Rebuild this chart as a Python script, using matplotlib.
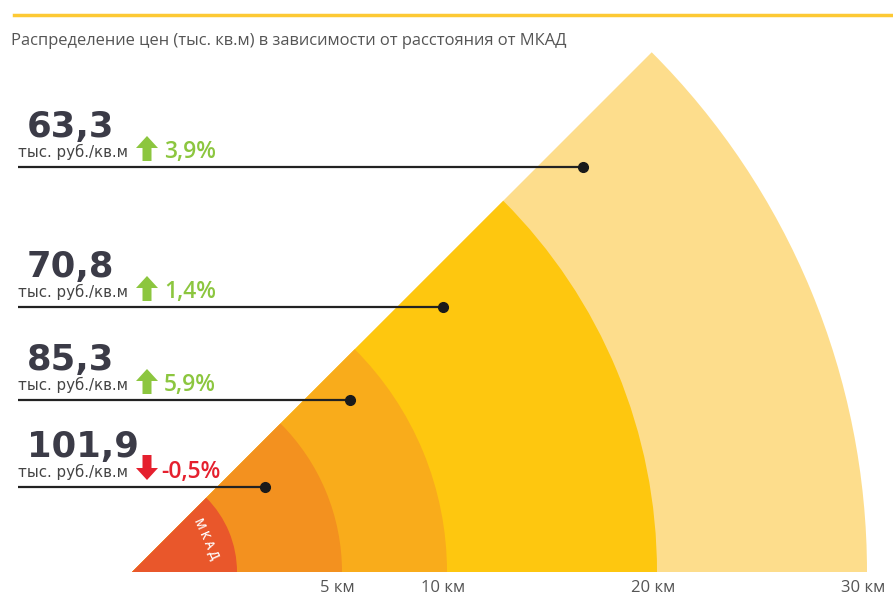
import numpy as np
import matplotlib
matplotlib.use('agg')
import matplotlib.pyplot as plt
from matplotlib.patches import Wedge, Polygon

# data
zone_km = [0, 5, 10, 20, 30]
zone_labels = ['', '5 км', '10 км', '20 км', '30 км']
zone_colors = ['#e9572b', '#f3911f', '#f9ac1b', '#fec70f', '#fddd8c']
prices = ['63,3', '70,8', '85,3', '101,9']
changes = ['3,9%', '1,4%', '5,9%', '-0,5%']
change_up = [True, True, True, False]
unit = 'тыс. руб./кв.м'
title = 'Распределение цен (тыс. кв.м) в зависимости от расстояния от МКАД'

# layout (pixels of the 893x599 picture)
W, H = 893, 599
X0, Y0, S = 132, 572, 21.0     # wedge vertex and px per km
MKAD_R = 5.0                   # MKAD ring radius in chart units
row_y = [167, 307, 400, 487]
dot_x = [583, 443, 350, 265]


def P(x, y):
    return (x - X0) / S, (Y0 - y) / S


fig = plt.figure(figsize=(W / 100, H / 100), dpi=100)
ax = fig.add_axes([0, 0, 1, 1])
ax.set_xlim(-X0 / S, (W - X0) / S)
ax.set_ylim(-(H - Y0) / S, Y0 / S)
ax.axis('off')

# sectors, outer first
for km, col in reversed(list(zip(zone_km, zone_colors))):
    ax.add_patch(Wedge((0, 0), MKAD_R + km, 0, 45, facecolor=col, edgecolor='none'))

for km, lab in zip(zone_km, zone_labels):
    if lab:
        ax.text(MKAD_R + km - 0.2, -0.75, lab, ha='center', va='center',
                fontsize=12, color='#555555', family='Open Sans')

ang = np.radians(24)
ax.text(0.78 * MKAD_R * np.cos(ang), 0.78 * MKAD_R * np.sin(ang), 'М К А Д',
        rotation=24 - 90, rotation_mode='anchor', ha='center', va='center',
        fontsize=8.5, color='white', family='Open Sans', fontweight='semibold')

# top rule and title
ax.plot([P(14, 0)[0], P(W, 0)[0]], [P(0, 15)[1]] * 2, color='#fdc934', lw=2.5)
x, y = P(11, 41)
ax.text(x, y, title, ha='left', va='center', fontsize=11.9, color='#555555',
        family=['Liberation Sans Narrow', 'Open Sans'])

for i in range(len(prices)):
    L = row_y[i]
    x, y = P(27, L - 30)
    ax.text(x, y, prices[i], ha='left', va='baseline', fontsize=25.5,
            fontweight='bold', color='#3b3b47')
    x, y = P(18, L - 10)
    ax.text(x, y, unit, ha='left', va='baseline', fontsize=10.8, color='#444444',
            family=['Liberation Sans Narrow', 'DejaVu Sans'])

    col = '#8cc63f' if change_up[i] else '#e5202e'
    cx = 147
    if change_up[i]:
        tip, base, neck = L - 31, L - 6, L - 19
    else:
        tip, base, neck = L - 7, L - 32, L - 19
    pts = [(cx, tip), (cx + 11, neck), (cx + 4.5, neck), (cx + 4.5, base),
           (cx - 4.5, base), (cx - 4.5, neck), (cx - 11, neck)]
    ax.add_patch(Polygon([P(a, b) for a, b in pts], closed=True, facecolor=col, edgecolor='none'))
    x, y = P(164 if change_up[i] else 161, L - 9)
    ax.text(x, y, changes[i], ha='left', va='baseline', fontsize=16.5,
            fontweight='semibold', color=col, family='Open Sans')

    x1, y1 = P(18, L)
    x2, _ = P(dot_x[i], L)
    ax.plot([x1, x2], [y1, y1], color='#222222', lw=1.6, solid_capstyle='butt')
    ax.plot(x2, y1, 'o', color='#1a1a1a', markersize=7)

fig.savefig('out.png', dpi=100, facecolor='white')
